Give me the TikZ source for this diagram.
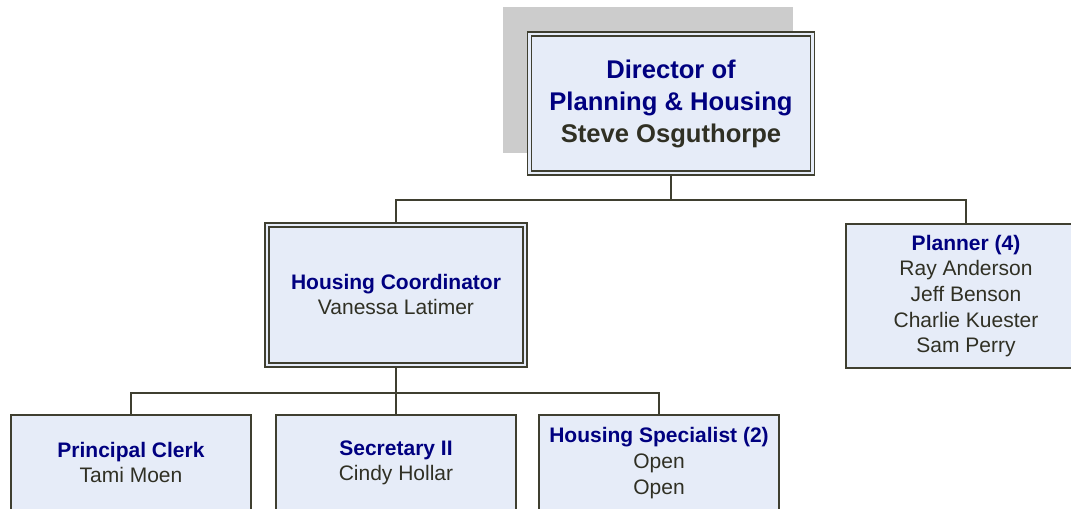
\documentclass[tikz,border=0pt]{standalone}
\usepackage{fontspec}
\setmainfont{Liberation Sans}
\usepackage{tikz}
\definecolor{boxfill}{HTML}{E6ECF8}
\definecolor{boxline}{HTML}{3F3F30}
\definecolor{titleblue}{HTML}{000080}
\definecolor{namegray}{HTML}{303024}
\definecolor{shadowgray}{HTML}{CCCCCC}
\newcommand{\boxtopstrut}{\rule{0pt}{0.95\baselineskip}}
\newcommand{\boxbotstrut}{\rule[-0.05\baselineskip]{0pt}{0.05\baselineskip}}

\begin{document}
\begin{tikzpicture}[x=0.75pt,y=-0.75pt,
    posbox/.style={draw=boxline, line width=1.1pt, fill=boxfill, text=namegray,
      align=center, inner sep=0pt, outer sep=0pt,
      execute at begin node=\boxtopstrut, execute at end node=\boxbotstrut,
      font=\fontsize{15.75}{19.2}\selectfont},
    headbox/.style={posbox, line width=1.2pt, double=boxfill, double distance=2pt, outer sep=2.2pt},
    link/.style={draw=boxline, line width=1.3pt}]
            \useasboundingbox (0,0) rectangle (1071,509);
            \clip (0,0) rectangle (1071,509);

            % shadow behind the director
            \fill[shadowgray] (503,7) rectangle (793,153);

            % top
            \node[headbox, minimum width=212.3pt, minimum height=104.3pt,
              font=\fontsize{19.2}{24}\selectfont\bfseries] (director) at (671,103.5)
              {\textcolor{titleblue}{Director of}\\\textcolor{titleblue}{Planning \& Housing}\\Steve Osguthorpe};

            % second row
            \node[headbox, minimum width=193.6pt, minimum height=105.1pt] (hcoord) at (396,295)
              {\textbf{\textcolor{titleblue}{Housing Coordinator}}\\Vanessa Latimer};
            \node[posbox, minimum width=180pt, minimum height=108pt] (planner) at (966,296)
              {\textbf{\textcolor{titleblue}{Planner (4)}}\\Ray Anderson\\Jeff Benson\\Charlie Kuester\\Sam Perry};

            % third row
            \node[posbox, minimum width=180pt, minimum height=72pt] (clerk) at (131,463)
              {\textbf{\textcolor{titleblue}{Principal Clerk}}\\Tami Moen};
            \node[posbox, minimum width=180pt, minimum height=72pt] (secretary) at (396,463)
              {\textbf{\textcolor{titleblue}{Secretary II}}\\Cindy Hollar};
            \node[posbox, minimum width=180pt, minimum height=72pt] (special) at (659,463)
              {\textbf{\textcolor{titleblue}{Housing Specialist (2)}}\\Open\\Open};

            % connectors
            \coordinate (split1) at (671,200);
            \coordinate (split2) at (396,393);
            \draw[link] (director.south) -- (split1);
            \draw[link] (hcoord.north) |- (split1) -| (planner.north);
            \draw[link] (hcoord.south) -- (split2);
            \draw[link] (clerk.north) |- (split2) -| (special.north);
            \draw[link] (secretary.north) -- (split2);

          \end{tikzpicture}
\end{document}
